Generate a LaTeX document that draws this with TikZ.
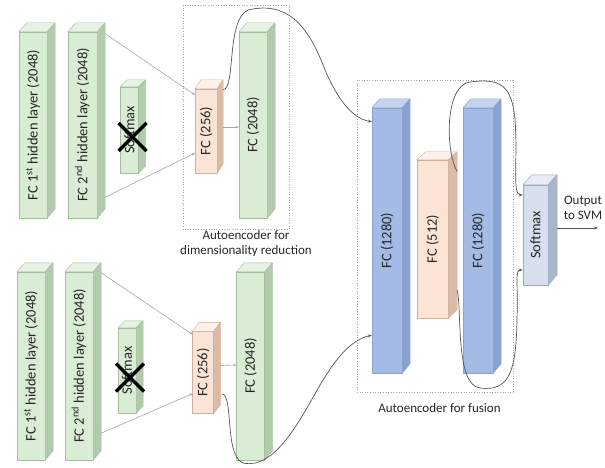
\documentclass[tikz,border=0pt]{standalone}
\usepackage{fontspec}
\setmainfont{Carlito}
\usetikzlibrary{calc,arrows.meta}
\definecolor{gfront}{HTML}{D9EDD4}
\definecolor{gtop}{HTML}{E6F2E2}
\definecolor{gside}{HTML}{B2CBAC}
\definecolor{gline}{HTML}{A3BD9D}
\definecolor{ofront}{HTML}{FBE4D6}
\definecolor{otop}{HTML}{FDF1EA}
\definecolor{oside}{HTML}{D9BBA7}
\definecolor{oline}{HTML}{CFAE99}
\definecolor{bfront}{HTML}{A4BBE5}
\definecolor{btop}{HTML}{C4D3EE}
\definecolor{bside}{HTML}{8AA2D2}
\definecolor{bline}{HTML}{8CA3D0}
\definecolor{sfront}{HTML}{D7DFEF}
\definecolor{stop}{HTML}{E6EBF4}
\definecolor{sside}{HTML}{A9B5CA}
\definecolor{sline}{HTML}{9DA9BF}
\definecolor{txt}{HTML}{262626}
\definecolor{thin}{HTML}{A6A6A6}
\definecolor{curve}{HTML}{555555}
\tikzset{
  layerface/.style={inner sep=0pt, line width=0.4pt, text=txt, font=\fontsize{14.5}{16}\selectfont},
  conn/.style={draw=thin, line width=0.6pt, -{Stealth[length=3pt,width=2.5pt]}},
  loopline/.style={draw=curve, line width=0.7pt, -{Stealth[length=4pt,width=3pt]}},
  frame/.style={draw=gray!70, dotted, line width=0.6pt},
  lbl/.style={text=txt, font=\fontsize{13}{15}\selectfont, align=center},
  cross/.style={line width=3.5pt, black},
}
\newcommand\layerbox[9]{%
  \node[layerface, draw=#8line, fill=#8front, minimum width=#4pt, minimum height=#5pt] (#1) at (#2,#3) {\rotatebox{90}{#9}};
  \filldraw[draw=#8line, fill=#8top, line join=round] (#1.north west) -- ++(#6,#7) -- ++(#4,0) -- (#1.north east) -- cycle;
  \filldraw[draw=#8line, fill=#8side, line join=round] (#1.north east) -- ++(#6,#7) -- ++(0,#5) -- (#1.south east) -- cycle;
}
\begin{document}
\begin{tikzpicture}[x=1pt,y=-1pt]
\useasboundingbox (0,0) rectangle (605,468);
% frames
\draw[frame] (183,5) rectangle (289,229);
\draw[frame] (357,80) rectangle (513,392);
% top group
\layerbox{A1}{33}{125}{28}{186}{8}{-9}{g}{FC 1\textsuperscript{st} hidden layer (2048)}
\layerbox{A2}{82.5}{125}{29}{186}{8}{-9}{g}{FC 2\textsuperscript{nd} hidden layer (2048)}
\layerbox{Asm}{129.5}{130}{18}{86}{7}{-7}{g}{Softmax}
\layerbox{A256}{206}{131}{22}{84}{6}{-9}{o}{FC (256)}
\layerbox{A2048}{253}{125}{28}{186}{8}{-9}{g}{FC (2048)}
\draw[cross] ($(Asm.center)+(-11,-7)$) -- ($(Asm.center)+(17,21)$);
\draw[cross] ($(Asm.center)+(-11,21)$) -- ($(Asm.center)+(17,-7)$);
\draw[conn] ($(A2.north east)+(8,2)$) -- ($(A256.north west)+(0,6)$);
\draw[conn] ($(A2.south east)+(8,-21)$) -- ($(A256.south west)+(0,-20)$);
\draw[conn] ($(A256.east)+(6,-4)$) -- ($(A2048.west)+(0,2)$);
% bottom group
\layerbox{B1}{31}{366}{28}{188}{8}{-9}{g}{FC 1\textsuperscript{st} hidden layer (2048)}
\layerbox{B2}{79}{366}{28}{188}{8}{-9}{g}{FC 2\textsuperscript{nd} hidden layer (2048)}
\layerbox{Bsm}{127}{370.5}{18}{85}{7}{-7}{g}{Softmax}
\layerbox{B256}{203}{372.5}{21}{82}{7}{-9}{o}{FC (256)}
\layerbox{B2048}{250.5}{366}{28}{188}{8}{-9}{g}{FC (2048)}
\draw[cross] ($(Bsm.center)+(-11,-7)$) -- ($(Bsm.center)+(17,21)$);
\draw[cross] ($(Bsm.center)+(-11,21)$) -- ($(Bsm.center)+(17,-7)$);
\draw[conn] ($(B2.north east)+(8,1)$) -- ($(B256.north west)+(0,3)$);
\draw[conn] ($(B2.south east)+(8,-27)$) -- ($(B256.south west)+(0,-20)$);
\draw[conn] ($(B256.east)+(7,-7)$) -- ($(B2048.west)+(0,-1)$);
% fusion
\layerbox{C1}{387}{240.5}{30}{265}{8}{-9}{b}{FC (1280)}
\layerbox{C512}{432.5}{239}{31}{158}{9}{-8}{o}{FC (512)}
\layerbox{C2}{478}{240.5}{30}{265}{8}{-9}{b}{FC (1280)}
\layerbox{Csm}{535.5}{235}{25}{100}{9}{-10}{s}{Softmax}
% curves
\draw[loopline] ($(A256.north east)+(6,1)$) .. controls (236,88) and (226,20) .. (248,10)
  .. controls (290,0) and (310,30) .. (325,70) .. controls (338,100) and (352,118) .. ($(C1.north west)+(0,14)$);
\draw[loopline] ($(B256.south east)+(8,-20)$) .. controls (234,395) and (224,455) .. (243,463)
  .. controls (275,470) and (300,420) .. (320,385) .. controls (335,360) and (350,340) .. ($(C1.south west)+(0,-38)$);
\draw[loopline] ($(C512.north east)+(9,12)$) .. controls (445,150) and (445,85) .. (470,82)
  .. controls (500,78) and (512,85) .. (515,120) .. controls (518,160) and (512,195) .. ($(Csm.west)+(0,-40)$);
\draw[loopline] ($(C512.south east)+(9,-28)$) .. controls (462,310) and (455,385) .. (480,388)
  .. controls (510,392) and (516,370) .. (517,320) .. controls (518,280) and (515,270) .. ($(Csm.west)+(0,35)$);
\coordinate (out) at (598,228);
\draw[draw=curve, line width=0.7pt, -{Stealth[length=4pt,width=3pt]}] ($(Csm.east)+(9,-7)$) -- (out);
% labels
\node[lbl] (lab1) at (246,244) {Autoencoder for\\dimensionality reduction};
\node[lbl] (lab2) at (439.5,408) {Autoencoder for fusion};
\node[lbl] (lab3) at (583,208) {Output\\to SVM};
\end{tikzpicture}
\end{document}
